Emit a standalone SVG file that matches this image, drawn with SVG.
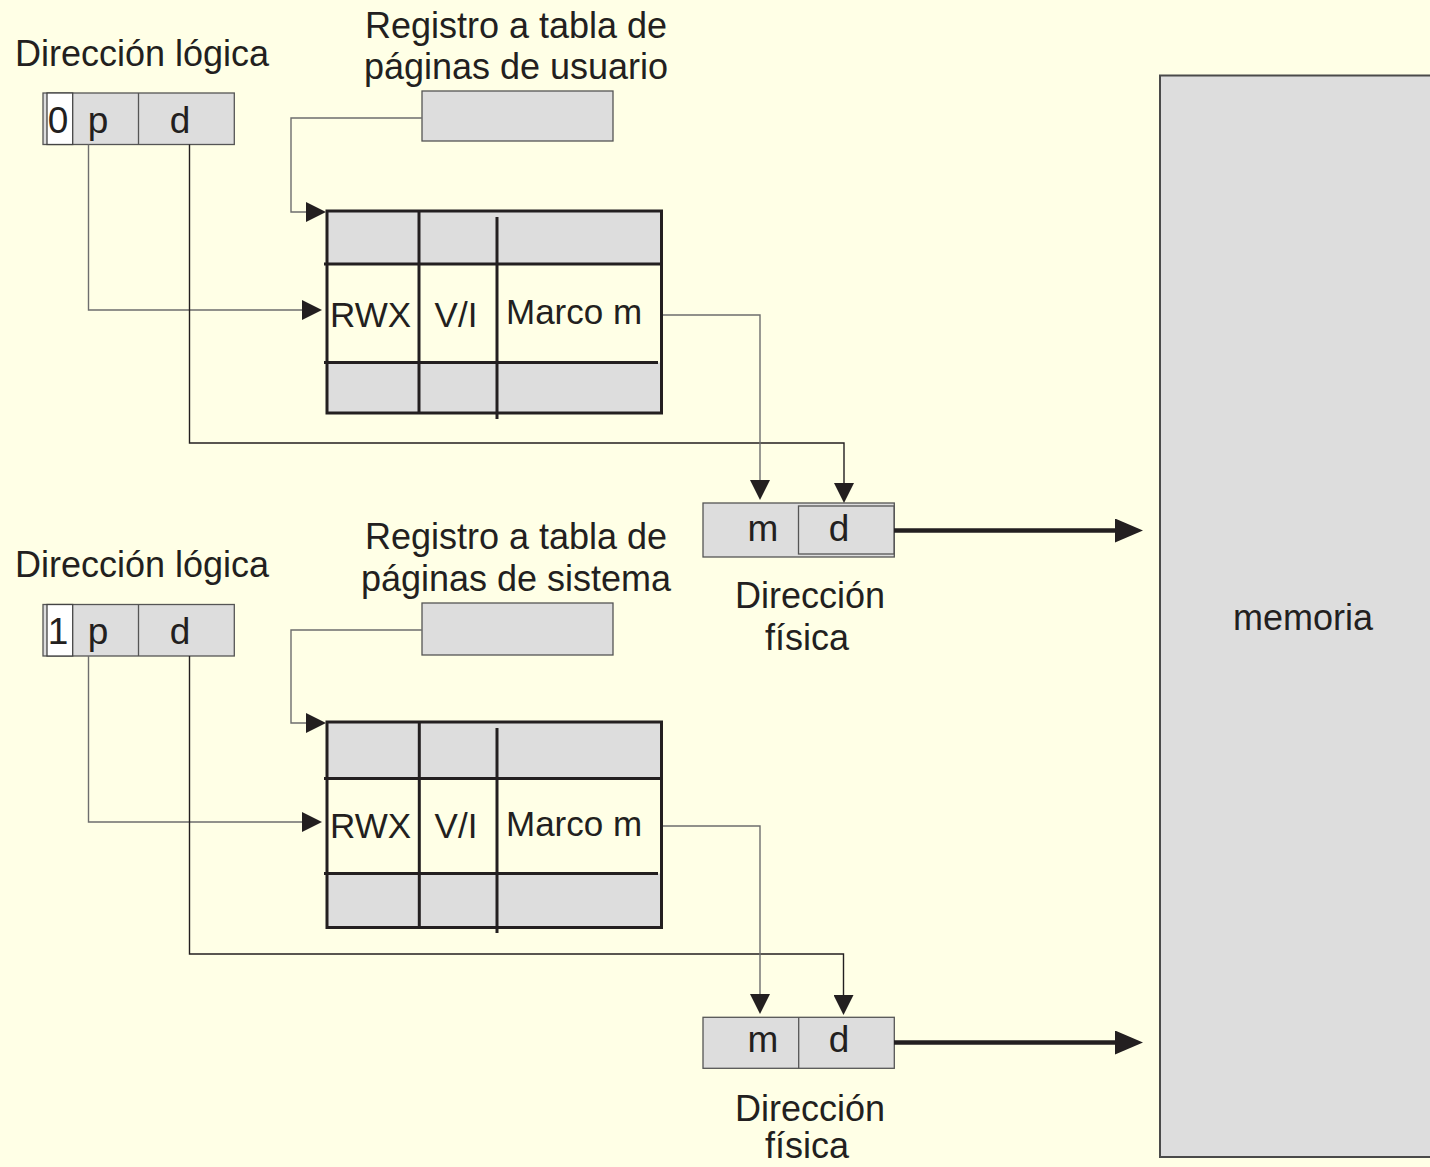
<svg xmlns="http://www.w3.org/2000/svg" width="1430" height="1167" viewBox="0 0 1430 1167">
<style>
text{font-family:"Liberation Sans",Arial,sans-serif;fill:#231F20}
.t36{font-size:36px}
.t35{font-size:35px}
.t37{font-size:37px}
.mid{text-anchor:middle}
.box{fill:#DDDDDD;stroke:#555;stroke-width:1.3}
.wcell{fill:#FFFFFF;stroke:#444;stroke-width:1.3}
.thin{fill:none;stroke:#555;stroke-width:1.3}
.thinl{fill:none;stroke:#6E6E6E;stroke-width:1.4}
.dark{fill:none;stroke:#231F20;stroke-width:1.4}
.tb{fill:none;stroke:#231F20;stroke-width:3}
.thick{fill:none;stroke:#231F20;stroke-width:4.5}
</style>
<defs>
<marker id="arr" viewBox="0 0 20 20" markerWidth="20" markerHeight="20" markerUnits="userSpaceOnUse" refX="0" refY="10" orient="auto">
<path d="M0,0 L20,10 L0,20 z" fill="#231F20"/>
</marker>
<marker id="big" viewBox="0 0 28 24" markerWidth="28" markerHeight="24" markerUnits="userSpaceOnUse" refX="0" refY="12" orient="auto">
<path d="M0,0 L28,12 L0,24 z" fill="#231F20"/>
</marker>
</defs>
<rect x="0" y="0" width="1430" height="1167" fill="#FFFFE6"/>

<g id="memoria">
<rect x="1160" y="75.5" width="300" height="1081.5" fill="#DDDDDD" stroke="#4A4A4A" stroke-width="2"/>
<text class="t36 mid" x="1303" y="630">memoria</text>
</g>

<!-- top section -->
<g id="dl-usuario">
<text class="t36" x="15" y="66">Dirección lógica</text>
<rect class="box" x="43" y="93" width="191.3" height="51.5"/>
<rect class="wcell" x="47" y="93" width="25.7" height="51.5"/>
<line class="thin" x1="138.5" y1="93" x2="138.5" y2="144.5"/>
<text class="t37 mid" x="58" y="133">0</text>
<text class="t37 mid" x="98" y="133">p</text>
<text class="t37 mid" x="180" y="133">d</text>
</g>

<g id="reg-usuario">
<text class="t36 mid" x="516" y="38">Registro a tabla de</text>
<text class="t36 mid" x="516" y="79">páginas de usuario</text>
<rect class="box" x="422" y="91" width="191" height="50"/>
</g>

<g id="tabla-usuario">
<rect x="327" y="211" width="334.5" height="202" fill="#DDDDDD"/>
<rect x="327" y="264" width="334.5" height="98.5" fill="#FFFFE6"/>
<rect class="tb" x="327" y="211" width="334.5" height="202"/>
<line class="tb" x1="324" y1="264" x2="661.5" y2="264"/>
<line class="tb" x1="324" y1="362.5" x2="658" y2="362.5"/>
<line class="tb" x1="419" y1="211" x2="419" y2="413"/>
<line class="tb" x1="497" y1="217" x2="497" y2="419"/>
<text class="t35" x="330" y="327">RWX</text>
<text class="t35 mid" x="456" y="327">V/I</text>
<text class="t35" x="506" y="324">Marco m</text>
</g>

<g id="df-usuario">
<rect class="box" x="703" y="503" width="191.3" height="54"/>
<rect class="box" x="798.5" y="506" width="95.5" height="48"/>
<text class="t37 mid" x="763" y="541">m</text>
<text class="t37 mid" x="839" y="541">d</text>
<text class="t36 mid" x="810" y="608">Dirección</text>
<text class="t36 mid" x="807" y="650">física</text>
</g>

<!-- bottom section -->
<g id="dl-sistema">
<text class="t36" x="15" y="577">Dirección lógica</text>
<rect class="box" x="43" y="604.5" width="191.3" height="51.5"/>
<rect class="wcell" x="47" y="604.5" width="25.7" height="51.5"/>
<line class="thin" x1="138.5" y1="604.5" x2="138.5" y2="656"/>
<text class="t37 mid" x="58" y="644">1</text>
<text class="t37 mid" x="98" y="644">p</text>
<text class="t37 mid" x="180" y="644">d</text>
</g>

<g id="reg-sistema">
<text class="t36 mid" x="516" y="549">Registro a tabla de</text>
<text class="t36 mid" x="516" y="591">páginas de sistema</text>
<rect class="box" x="422" y="603" width="191" height="52"/>
</g>

<g id="tabla-sistema">
<rect x="327" y="722" width="334.5" height="205.5" fill="#DDDDDD"/>
<rect x="327" y="778.5" width="334.5" height="95" fill="#FFFFE6"/>
<rect class="tb" x="327" y="722" width="334.5" height="205.5"/>
<line class="tb" x1="324" y1="778.5" x2="661.5" y2="778.5"/>
<line class="tb" x1="324" y1="873.5" x2="658" y2="873.5"/>
<line class="tb" x1="419.3" y1="722" x2="419.3" y2="927.5"/>
<line class="tb" x1="497" y1="728" x2="497" y2="933"/>
<text class="t35" x="330" y="838">RWX</text>
<text class="t35 mid" x="456" y="838">V/I</text>
<text class="t35" x="506" y="836">Marco m</text>
</g>

<g id="df-sistema">
<rect class="box" x="703" y="1017.3" width="191.3" height="51"/>
<line class="thin" x1="798.7" y1="1017.3" x2="798.7" y2="1068.3"/>
<text class="t37 mid" x="763" y="1052">m</text>
<text class="t37 mid" x="839" y="1052">d</text>
<text class="t36 mid" x="810" y="1121">Dirección</text>
<text class="t36 mid" x="807" y="1158">física</text>
</g>

<g id="connectors">
<path class="thinl" d="M422,118 H291 V212 H306" marker-end="url(#arr)"/>
<path class="thinl" d="M88.5,144.5 V310 H302" marker-end="url(#arr)"/>
<path class="dark" d="M189.5,144.5 V443 H844 V483" marker-end="url(#arr)"/>
<path class="thinl" d="M663,315 H760 V480" marker-end="url(#arr)"/>
<path class="thick" d="M894,530.5 H1115" marker-end="url(#big)"/>

<path class="thinl" d="M422,630 H291 V723 H306" marker-end="url(#arr)"/>
<path class="thinl" d="M88.5,656 V822 H302" marker-end="url(#arr)"/>
<path class="dark" d="M189.5,656 V954 H843.5 V995" marker-end="url(#arr)"/>
<path class="thinl" d="M663,826 H760 V994" marker-end="url(#arr)"/>
<path class="thick" d="M894,1042.5 H1115" marker-end="url(#big)"/>
</g>
</svg>
